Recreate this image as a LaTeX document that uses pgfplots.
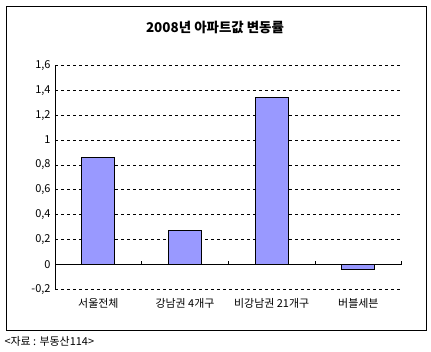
\documentclass[border=0pt]{standalone}
\usepackage{fontspec}
\setmainfont{Noto Sans CJK KR}
\usepackage{pgfplots}
\pgfplotsset{compat=1.18}
\definecolor{barblue}{RGB}{153,153,255}
\begin{document}
\begin{tikzpicture}[x=1bp,y=1bp]
\path[use as bounding box] (0,0) rectangle (431,-352);
\draw[line width=1bp] (6,-6) rectangle (426,-330);
\node[font=\bfseries\fontsize{13.5}{15}\selectfont] at (215,-27) {2008년 아파트값 변동률};
\node[anchor=west, font=\fontsize{11}{12}\selectfont] at (1,-341) {<자료 : 부동산114>};
\begin{axis}[
  at={(55bp,-289.3bp)}, anchor=south west,
  scale only axis, width=346.7bp, height=224bp,
  ymin=-0.2, ymax=1.6, ytick={-0.2,0,0.2,0.4,0.6,0.8,1,1.2,1.4,1.6},
  xmin=-0.5, xmax=3.5, xtick={0,1,2,3},
  xticklabels={서울전체, 강남권 4개구, 비강남권 21개구, 버블세븐},
  axis line style={draw=none}, tick style={draw=none},
  ymajorgrids, grid style={black, dash pattern=on 3bp off 3bp, line width=0.7bp},
  ybar, bar width=33bp,
  /pgf/number format/assume math mode=true,
  yticklabel style={/pgf/number format/fixed, /pgf/number format/use comma, /pgf/number format/precision=1, xshift=-1bp},
  tick label style={font=\fontsize{11}{12}\selectfont},
  xticklabel style={yshift=-1bp},
  clip=false,
]
\addplot[fill=barblue, draw=black, line width=0.8bp] coordinates {(0,0.86) (1,0.27) (2,1.34) (3,-0.04)};
\draw[black, line width=0.8bp] (axis cs:-0.5,0) -- (axis cs:3.5,0);
\draw[black, line width=0.8bp] (axis cs:-0.5,-0.2) -- (axis cs:-0.5,1.6);
\draw[black, line width=0.6bp] (axis cs:0.5,0) -- (axis cs:0.5,0.025);
\draw[black, line width=0.6bp] (axis cs:1.5,0) -- (axis cs:1.5,0.025);
\draw[black, line width=0.6bp] (axis cs:2.5,0) -- (axis cs:2.5,0.025);
\draw[black, line width=0.6bp] (axis cs:3.5,0) -- (axis cs:3.5,0.025);
\end{axis}
\end{tikzpicture}
\end{document}
